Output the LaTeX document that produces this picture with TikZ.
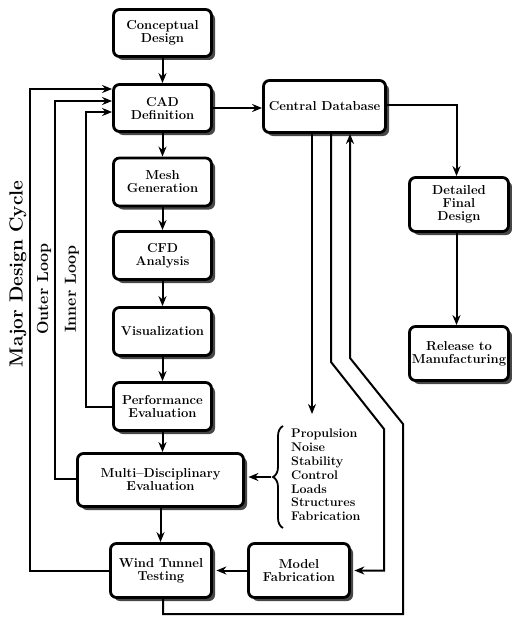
\documentclass[tikz,border=0pt]{standalone}
\usetikzlibrary{arrows.meta,shadows,decorations.pathreplacing}
\begin{document}
\begin{tikzpicture}[x=1pt,y=-1pt,
  box/.style={draw,line width=2.8pt,rounded corners=6pt,fill=white,
    drop shadow={shadow xshift=3.5pt,shadow yshift=-3.5pt,fill=black!72,opacity=1},
    align=center,inner sep=1pt,font=\fontsize{13}{13}\selectfont\bfseries},
  conn/.style={line width=2pt},
  arr/.style={conn,-{Stealth[length=10pt,width=8pt]}},
  looplabel/.style={rotate=90,font=\fontsize{16}{18}\selectfont\bfseries}]
\useasboundingbox (0,0) rectangle (511,618);
% boxes
\node[box,minimum width=98pt,minimum height=47pt] (concept) at (162.5,33) {Conceptual\\Design};
\node[box,minimum width=98pt,minimum height=47pt] (cad) at (162.5,108) {CAD\\Definition};
\node[box,minimum width=98pt,minimum height=48pt] (mesh) at (162.5,182) {Mesh\\Generation};
\node[box,minimum width=98pt,minimum height=48pt] (cfd) at (162.5,255.5) {CFD\\Analysis};
\node[box,minimum width=98pt,minimum height=48pt] (vis) at (162.5,331.5) {Visualization};
\node[box,minimum width=98pt,minimum height=48pt] (perf) at (162.5,406.5) {Performance\\Evaluation};
\node[box,minimum width=166pt,minimum height=53pt] (multi) at (160.5,480) {Multi--Disciplinary\\Evaluation};
\node[box,minimum width=101pt,minimum height=54pt] (wind) at (161,570.5) {Wind Tunnel\\Testing};
\node[box,minimum width=101pt,minimum height=54pt] (model) at (299,570.5) {Model\\Fabrication};
\node[box,minimum width=122pt,minimum height=52pt] (central) at (324.5,106.5) {Central Database};
\node[box,minimum width=99pt,minimum height=54pt] (detail) at (459,204.5) {Detailed\\Final\\Design};
\node[box,minimum width=99pt,minimum height=54pt] (release) at (459,353.5) {Release to\\Manufacturing};
% main chain
\draw[arr] (concept) -- (cad);
\draw[arr] (cad) -- (mesh);
\draw[arr] (mesh) -- (cfd);
\draw[arr] (cfd) -- (vis);
\draw[arr] (vis) -- (perf);
\draw[arr] (perf.south) -- (perf.south |- multi.north);
\draw[arr] (multi.south) -- (multi.south |- wind.north);
\draw[arr] (cad.east) -- (cad.east -| central.west);
% loops
\coordinate (majtop) at (30,89);
\coordinate (outtop) at (55,101);
\coordinate (intop) at (86,112);
\draw[arr] (wind.west) -| (majtop) -- (majtop -| cad.west);
\draw[arr] ([yshift=1pt]multi.west) -| (outtop) -- (outtop -| cad.west);
\draw[arr] (perf.west) -| (intop) -- (intop -| cad.west);
\node[looplabel,font=\fontsize{19}{20}\selectfont\bfseries] (lmaj) at (18,274) {Major Design Cycle};
\node[looplabel] (lout) at (44,289) {Outer Loop};
\node[looplabel] (lin) at (72,289) {Inner Loop};
% central database links
\coordinate (d1) at (456.5,105);
\draw[arr] (central.east |- d1) -- (d1) -- (detail.north -| d1);
\draw[arr] (detail.south -| d1) -- (release.north -| d1);
\coordinate (listtop) at (312,414);
\draw[arr] (central.south -| listtop) -- (listtop);
\coordinate (b2a) at (331,362);
\coordinate (b2b) at (384,429);
\draw[arr] (central.south -| b2a) -- (b2a) -- (b2b) -- (b2b |- model.east) -- ([xshift=3.5pt]model.east);
\coordinate (b3a) at (350,358);
\coordinate (b3b) at (403,424);
\coordinate (bot) at (403,614);
\draw[arr] (wind.south -| 163,0) -- (163,614) -- (bot) -- (b3b) -- (b3a) -- (central.south -| b3a);
\draw[arr] (model.west) -- ([xshift=3.5pt]wind.east);
% brace and list
\draw[line width=1.8pt,decorate,decoration={brace,amplitude=10pt}] (283,528) -- (283,426);
\coordinate (bracetip) at (271,477);
\draw[arr] (bracetip) -- ([xshift=3.5pt]multi.east |- bracetip);
\node[anchor=west,align=left,inner sep=0pt,font=\fontsize{12.5}{13.8}\selectfont\bfseries] (list) at (291,475)
  {Propulsion\\Noise\\Stability\\Control\\Loads\\Structures\\Fabrication};
\end{tikzpicture}
\end{document}
